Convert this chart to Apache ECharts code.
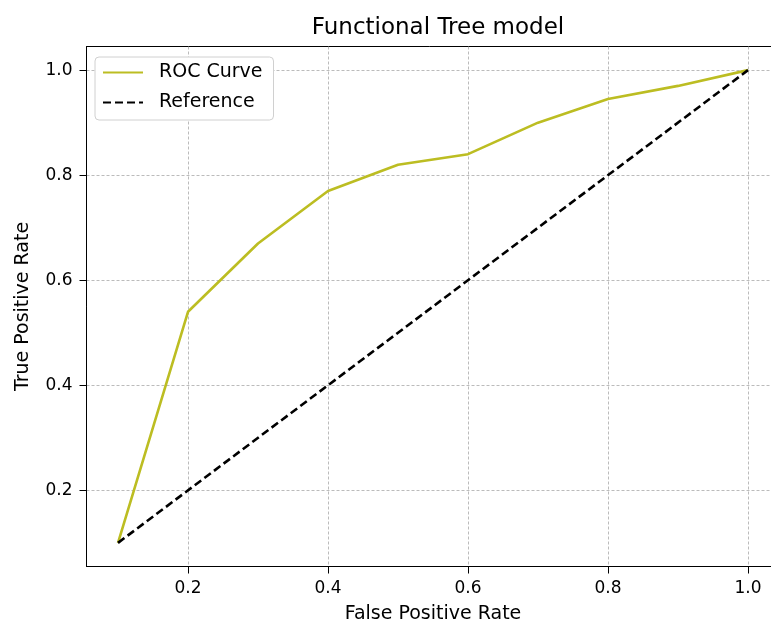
<!DOCTYPE html>
<html>
<head>
<meta charset="utf-8">
<script src="https://cdn.jsdelivr.net/npm/echarts@6/dist/echarts.min.js"></script>
<style>
	html, body { margin: 0; padding: 0; background: #fff; }
	#chart { width: 771px; height: 623px; }
</style>
</head>
<body>
<div id="chart"></div>
<script>
// ROC points
const fpr = [0.1, 0.2, 0.3, 0.4, 0.5, 0.6, 0.7, 0.8, 0.9, 1.0];
const tpr = [0.1, 0.54, 0.67, 0.77, 0.82, 0.84, 0.90, 0.945, 0.97, 1.0];
const refX = [0.1, 1.0];
const refY = [0.1, 1.0];
const xTicks = [0.2, 0.4, 0.6, 0.8, 1.0];
const yTicks = [0.2, 0.4, 0.6, 0.8, 1.0];

const font = 'DejaVu Sans';

const zip = (xs, ys) => xs.map((x, i) => [x, ys[i]]);

function axisOpts(name, ticks, extra) {
	return Object.assign({
		type: 'value',
		name: name,
		nameLocation: 'middle',
		nameTextStyle: {fontFamily: font, fontSize: 19, color: '#000'},
		min: 0.055,
		max: 1.045,
		axisLine: {show: true, onZero: false, lineStyle: {color: '#000', width: 1}},
		axisTick: {show: true, inside: false, length: 7, customValues: ticks, lineStyle: {color: '#000'}},
		axisLabel: {
			customValues: ticks,
			fontFamily: font,
			fontSize: 17,
			color: '#000',
			margin: 14,
			formatter: v => v.toFixed(1)
		},
		splitLine: {show: true, lineStyle: {color: '#aaa', width: 0.8, type: [3, 2]}}
	}, extra);
}

const chart = echarts.init(document.getElementById('chart'), null, {renderer: 'canvas'});
chart.setOption({
	animation: false,
	backgroundColor: '#fff',
	title: {
		text: 'Functional Tree model',
		left: 433,
		top: 12,
		textAlign: 'center',
		textStyle: {fontFamily: font, fontSize: 23, fontWeight: 'normal', color: '#000'}
	},
	grid: {
		left: 86.5,
		top: 46.5,
		width: 693,
		height: 520,
		show: true,
		borderColor: '#000',
		borderWidth: 1,
		outerBoundsMode: 'none',
		containLabel: false
	},
	legend: {
		orient: 'vertical',
		left: 95,
		top: 57,
		padding: [6, 11, 8, 7],
		itemGap: 11,
		itemWidth: 40,
		itemHeight: 14,
		backgroundColor: '#fff',
		borderColor: '#d0d0d0',
		borderWidth: 1,
		borderRadius: 4,
		itemStyle: {opacity: 0},
		textStyle: {fontFamily: font, fontSize: 19, color: '#000', padding: [0, 0, 0, 11]},
		data: ['ROC Curve', 'Reference']
	},
	xAxis: axisOpts('False Positive Rate', xTicks, {nameGap: 38}),
	yAxis: axisOpts('True Positive Rate', yTicks, {nameGap: 54}),
	series: [
		{
			name: 'ROC Curve',
			type: 'line',
			data: zip(fpr, tpr),
			symbol: 'none',
			lineStyle: {color: '#bcbd22', width: 2.6},
			itemStyle: {color: '#bcbd22'},
			z: 3
		},
		{
			name: 'Reference',
			type: 'line',
			data: zip(refX, refY),
			symbol: 'none',
			lineStyle: {color: '#000', width: 2.6, type: [8, 4]},
			itemStyle: {color: '#000'},
			z: 4
		}
	]
});
</script>
</body>
</html>
